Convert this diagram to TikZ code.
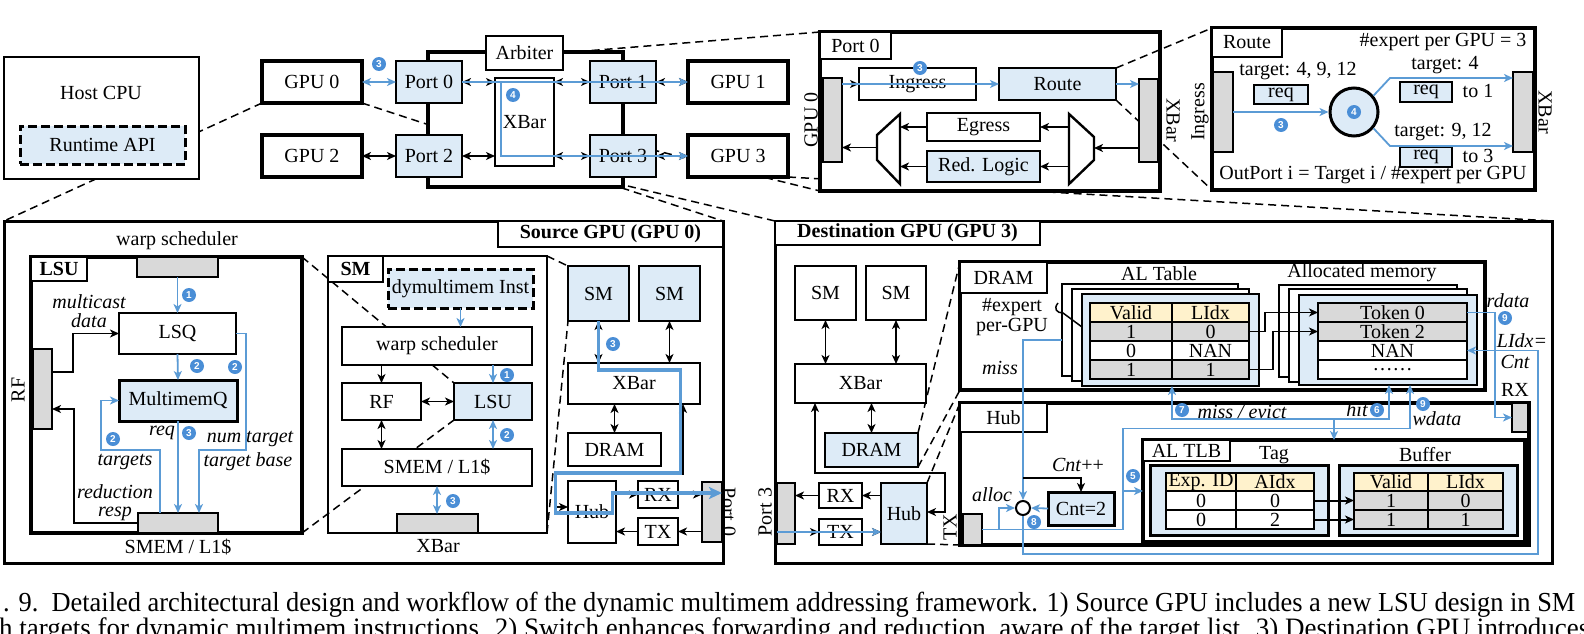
\documentclass[tikz,border=0pt]{standalone}
\usepackage{fontspec}
\setmainfont{Liberation Serif}
\setsansfont{Liberation Sans}
\newfontfamily\capfont[FakeStretch=0.96]{Liberation Serif}
\usepackage{tikz}
\usetikzlibrary{arrows.meta}
\usetikzlibrary{calc}
\usepackage{xcolor}
\usepackage{graphicx}

\definecolor{lblue}{HTML}{DDEBF7}
\definecolor{bline}{HTML}{5B9BD5}
\definecolor{bbadge}{HTML}{4A8ED6}
\definecolor{barg}{HTML}{D9D9D9}
\definecolor{hdr}{HTML}{FFF2CC}

\pgfdeclarelayer{background}
\pgfsetlayers{background,main}

\begin{document}
\fontsize{20}{24}\selectfont
\begin{tikzpicture}[x=1pt, y=-1pt, >={Stealth[length=9pt,width=8pt,inset=2.5pt]}]
        % ================= styles =================
        \tikzset{
            % plain white box
            box/.style={draw=black, line width=2.4pt, fill=white, inner sep=0pt, outer sep=0pt},
            % thin white box
            thinbox/.style={box, line width=1.6pt},
            % heavy box (GPUs, outer frames)
            heavybox/.style={box, line width=3.2pt},
            % highlighted box
            bluebox/.style={box, fill=lblue},
            % dashed box
            dashbox/.style={dash pattern=on 9pt off 4pt, line width=3pt},
            % container without fill
            outerbox/.style={draw=black, line width=3pt, inner sep=0pt, outer sep=0pt},
            % grey interface bar
            bar/.style={draw=black, line width=2.4pt, fill=barg, inner sep=0pt, outer sep=0pt},
            % small request box
            reqbox/.style={draw=black, line width=1.5pt, fill=lblue, inner sep=0pt, outer sep=0pt},
            % size helper
            sz/.style 2 args={minimum width=#1pt, minimum height=#2pt},
            % table cells
            cell/.style={draw=black, line width=1.5pt, inner sep=0pt, outer sep=0pt, minimum height=19pt},
            hcell/.style={cell, fill=hdr},
            gcell/.style={cell, fill=barg},
            wcell/.style={cell, fill=white},
            % zoom-in guide lines
            zoomline/.style={draw=black, line width=1.5pt, dash pattern=on 8pt off 5pt},
            % connectors
            arr/.style={draw=black, line width=1.5pt, ->},
            darr/.style={draw=black, line width=1.5pt, <->},
            barr/.style={draw=bline, line width=1.8pt, ->},
            bdarr/.style={draw=bline, line width=1.8pt, <->},
            bpath/.style={draw=bline, line width=3.2pt, -{Stealth[length=13pt,width=12pt,inset=3pt]}},
            % step badge
            badge/.style={circle, fill=bbadge, text=white, font=\sffamily\bfseries\fontsize{10}{10}\selectfont, inner sep=0pt, minimum size=14pt},
            note/.style={font=\itshape, inner sep=0pt}
        }
        \useasboundingbox (0,0) rectangle (1584,634);

        % ================= 1. containers of the lower half =================
        \node[outerbox, sz={719}{342}] (src) at (363.5,392) {};
        \node[outerbox, sz={777}{342}] (dst) at (1163.5,392) {};
        \node[box, fill=none, sz={219}{277}] (smdet) at (437.5,394.5) {};

        % ================= 2. host, GPUs and switch =================
        \node[box, sz={195}{122}] (host) at (101.5,118) {};
        \node (hostlbl) at (101,93) {Host CPU};
        \node[bluebox, dashbox, sz={165}{38}] (rtapi) at (102.5,145) {Runtime API};

        \node[heavybox, sz={100}{42}] (gpu0) at (312,82) {GPU 0};
        \node[heavybox, sz={100}{42}] (gpu2) at (312,156) {GPU 2};
        \node[heavybox, sz={100}{42}] (gpu1) at (738,82) {GPU 1};
        \node[heavybox, sz={100}{42}] (gpu3) at (738,156) {GPU 3};

        \node[heavybox, sz={195}{135}] (sw) at (525.5,119.5) {};
        \node[box, sz={77}{34}] (arb) at (524.5,53) {Arbiter};
        \node[bluebox, sz={66}{42}] (port0) at (429,82) {Port 0};
        \node[bluebox, sz={66}{42}] (port2) at (429,156) {Port 2};
        \node[bluebox, sz={66}{42}] (port1) at (623,82) {Port 1};
        \node[bluebox, sz={66}{42}] (port3) at (623,156) {Port 3};
        \node[thinbox, sz={59}{88}] (xbar) at (524.5,122) {XBar};

        % --- links ---
        \draw[bdarr] (gpu0.east) -- (port0.west);
        \draw[darr] (gpu2.east) -- (port2.west);
        \draw[darr] (port0.east) -- (port0.east -| xbar.west);
        \draw[darr] (port0.east -| xbar.east) -- (port1.west);
        \draw[darr] (port1.east) -- (gpu1.west);
        \draw[darr] (port2.east) -- (port2.east -| xbar.west);
        \draw[darr] (port2.east -| xbar.east) -- (port3.west);
        \draw[darr] (port3.east) -- (gpu3.west);
        % --- multicast route ---
        \draw[barr] (port0.east) -- (gpu1.west);
        \draw[barr] ($(port0.east)+(39,0)$) |- (gpu3.west);
        \node[badge] (bg3) at (379,64) {3};
        \node[badge] (bg4) at (513,95) {4};

        % ================= 3. Route detail and Port 0 detail =================
        \node[heavybox, sz={323}{162}] (rdet) at (1373.5,109) {};
        \node[heavybox, sz={340}{159}] (pdet) at (990,111.5) {};
        \node[bluebox, sz={117}{32}] (route) at (1057.5,84) {Route};
        \draw[zoomline] (route.north east) -- (rdet.north west);
        \draw[zoomline] (route.south east) -- (rdet.south west);

        \node[box, sz={71}{27}] (pdetlbl) at (855.5,45.5) {Port 0};
        \node[bar, sz={19}{84}] (pgbar) at (832.5,120) {};
        \node[rotate=90] (pgbarlbl) at (811,120) {GPU 0};
        \node[box, sz={117}{32}] (ingress) at (917.5,84) {Ingress};
        \node[bar, sz={19}{83}] (pxbar) at (1148.5,120.5) {};
        \node[rotate=-90] (pxbarlbl) at (1173,120) {XBar};
        \node[box, sz={113}{28}] (egress) at (983.5,127) {Egress};
        \node[bluebox, sz={113}{31}] (redlog) at (983.5,166.5) {Red. Logic};
        % mux / demux
        \draw[line width=2.4pt, fill=white] (900,114) -- (900,184) -- (877,160) -- (877,135) -- cycle;
        \draw[line width=2.4pt, fill=white] (1069,114) -- (1069,184) -- (1094,160) -- (1094,137) -- cycle;
        \coordinate (muxout) at (877,147.5);
        \coordinate (muxin) at (900,147.5);
        \coordinate (dmxin) at (1094,148);
        \coordinate (dmxout) at (1069,148);

        \draw[arr] (dmxin -| pxbar.west) -- (dmxin);
        \draw[arr] (egress.east -| dmxout) -- (egress.east);
        \draw[arr] (redlog.east -| dmxout) -- (redlog.east);
        \draw[arr] (egress.west) -- (egress.west -| muxin);
        \draw[arr] (redlog.west) -- (redlog.west -| muxin);
        \draw[arr] (muxout) -- (muxout -| pgbar.east);
        \draw[arr] (ingress.west -| pgbar.east) -- (ingress.west);
        \draw[barr] (ingress.west -| pgbar.east) -- (route.west);
        \draw[barr] (route.east) -- (route.east -| pxbar.west);
        \node[badge] (bp3) at (920,68) {3};

        % --- Route detail content ---
        \node[box, sz={70}{29}] (rdetlbl) at (1247,42.5) {Route};
        \node (epg) at (1443,42) {\#expert per GPU = 3};
        \node[bar, sz={20}{80}] (rinbar) at (1223,112) {};
        \node[rotate=90] (rinlbl) at (1200,112) {Ingress};
        \node[bar, sz={20}{80}] (routbar) at (1523,112) {};
        \node[rotate=-90] (routlbl) at (1545,112) {XBar};
        \node[circle, draw=black, line width=3pt, fill=lblue, minimum size=48pt, inner sep=0pt] (rsel) at (1354,112) {};
        \node[badge] (br4) at (rsel) {4};
        \node (rt0) at (1298,71) {target: 4, 9, 12};
        \node[reqbox, sz={54}{19}] (req0) at (1281,94.5) {req};
        \node (rt1) at (1445,65) {target: 4};
        \node[reqbox, sz={52}{20}] (req1) at (1426,92) {req};
        \node (to1) at (1478,91) {to 1};
        \node (rt2) at (1443,132) {target: 9, 12};
        \node[reqbox, sz={52}{20}] (req2) at (1426,157) {req};
        \node (to3) at (1478,156) {to 3};
        \node (opi) at (1373,175) {OutPort i = Target i / \#expert per GPU};
        \coordinate (rup) at (1390,78);
        \coordinate (rdn) at (1390,146);
        \draw[barr] (rinbar.east) -- (rsel.west);
        \draw[barr] (rsel.40) -- (rup) -- (rup -| routbar.west);
        \draw[barr] (rsel.-40) -- (rdn) -- (rdn -| routbar.west);
        \node[badge] (br3) at (1281,125) {3};

        % ================= 4. Source GPU =================
        \node[box, sz={225}{26}, font=\bfseries] (srclbl) at (610.5,234) {Source GPU (GPU 0)};

        % --- LSU detail ---
        \node[heavybox, sz={271}{276}] (lsudet) at (166.5,395) {};
        \node[box, sz={56}{24}, font=\bfseries] (lsulbl) at (59,269) {LSU};
        \node (lwslbl) at (177,241) {warp scheduler};
        \node[bar, sz={81}{20}] (lwsbar) at (177.5,267) {};
        \node[box, sz={117}{41}] (lsq) at (177.5,333.5) {LSQ};
        \node[bar, sz={19}{80}] (lrfbar) at (42.5,389) {};
        \node[rotate=90] (lrflbl) at (18,390) {RF};
        \node[bluebox, line width=3pt, sz={118}{41}] (mmq) at (178,400.5) {MultimemQ};
        \node[bar, sz={80}{20}] (lsmbar) at (178,523) {};
        \node (lsmlbl) at (178,547) {SMEM / L1\$};

        \node[note] (tmc) at (89,302) {multicast};
        \node[note] (tmd) at (89,321) {data};
        \node[note] (treq) at (162,433) {req};
        \node[note] (tnt) at (250,439) {num target};
        \node[note] (ttb) at (248,462) {target base};
        \node[note] (ttg) at (125,462) {targets};
        \node[note] (trd) at (115,492) {reduction};
        \node[note] (trs) at (115,514) {resp};

        \draw[barr] (lwsbar.south) -- (lsq.north);
        \draw[arr] ($(lrfbar.east)+(0,-17)$) -| ($(lsq.west)+(-46,0)$) -- (lsq.west);
        \draw[barr] (lsq.south) -- (mmq.north);
        \draw[barr] (lsq.east) -- ++(10,0) |- ($(lsmbar.north)+(21,-63)$) -- ($(lsmbar.north)+(21,0)$);
        \draw[barr] (mmq.south) -- (mmq.south |- lsmbar.north);
        \draw[barr] ($(lsmbar.north)+(-18,0)$) -- ++(0,-63) -- ++(-59,0) |- (mmq.west);
        \draw[arr] (lsmbar.west) -- ++(-64,0) |- ($(lrfbar.east)+(0,20)$);
        \node[badge] at (189,295) {1};
        \node[badge] at (197,366) {2};
        \node[badge] at (235,367) {2};
        \node[badge] at (189,433) {3};
        \node[badge] at (113,439) {2};

        % --- SM detail ---
        \node[box, sz={55}{26}, font=\bfseries] (smlbl) at (355.5,269) {SM};
        \node[bluebox, dashbox, sz={145}{39}] (dyinst) at (460.5,288.5) {dymultimem Inst};
        \node[box, sz={190}{38}] (ws) at (437,346) {warp scheduler};
        \node[box, sz={79}{37}] (rf) at (381.5,401.5) {RF};
        \node[bluebox, sz={78}{37}] (lsu) at (493,401.5) {LSU};
        \node[box, sz={190}{37}] (smem) at (437,467.5) {SMEM / L1\$};
        \node[bar, sz={81}{19}] (smxbar) at (437.5,523.5) {};
        \node (smxlbl) at (438,546) {XBar};

        \draw[barr] (dyinst.south) -- (dyinst.south |- ws.north);
        \draw[arr] (rf.north |- ws.south) -- (rf.north);
        \draw[barr] (lsu.north |- ws.south) -- (lsu.north);
        \draw[darr] (rf.east) -- (lsu.west);
        \draw[darr] (rf.south) -- (rf.south |- smem.north);
        \draw[bdarr] (lsu.south) -- (lsu.south |- smem.north);
        \draw[bdarr] (smem.south) -- (smem.south |- smxbar.north);
        \node[badge] at (507,375) {1};
        \node[badge] at (507,435) {2};
        \node[badge] at (453,501) {3};

        % --- GPU 0 chip ---
        \node[bluebox, sz={61}{55}] (ssm1) at (598.5,293.5) {SM};
        \node[bluebox, sz={61}{55}] (ssm2) at (669.5,293.5) {SM};
        \node[box, sz={132}{41}] (sxbar) at (634,383.5) {XBar};
        \node[box, sz={93}{33}] (sdram) at (614.5,449.5) {DRAM};
        \node[box, sz={48}{62}] (shub) at (592,512) {Hub};
        \node[box, sz={40}{27}] (srx) at (658,494.5) {RX};
        \node[box, sz={40}{27}] (stx) at (658,531.5) {TX};
        \node[bar, sz={20}{60}] (sp0bar) at (712,512) {};
        \node[rotate=-90] (sp0lbl) at (729,512) {Port 0};

        \draw[darr] (ssm1.south) -- (ssm1.south |- sxbar.north);
        \draw[darr] (ssm2.south) -- (ssm2.south |- sxbar.north);
        \draw[darr] (sdram.north) -- (sdram.north |- sxbar.south);
        \draw[darr] ($(sxbar.south east)+(-17,0)$) -- ++(0,70) -| ($(shub.west)+(-12,-5)$) -- ($(shub.west)+(0,-5)$);
        \draw[arr] (srx.west -| shub.east) -- (srx.west);
        \draw[arr] (srx.east) -- (srx.east -| sp0bar.west);
        \draw[arr] (stx.east -| sp0bar.west) -- (stx.east);
        \draw[arr] (stx.west) -- (stx.west -| shub.east);
        \draw[bpath] (ssm1.south) -- ++(0,49) -- ++(82,0) -- ++(0,103) -- ++(-125,0) -- ++(0,40) -- ++(57,0) -- ++(0,-20) -- ($(sp0bar.east)+(0,-19)$);
        \node[badge] at (613,344) {3};

        % ================= 5. Destination GPU =================
        \node[box, sz={265}{24}, font=\bfseries] (dstlbl) at (907.5,233) {Destination GPU (GPU 3)};
        \node[box, sz={61}{54}] (dsm1) at (825.5,293) {SM};
        \node[box, sz={60}{54}] (dsm2) at (896,293) {SM};
        \node[box, sz={131}{39}] (dxbar) at (860.5,383.5) {XBar};
        \node[bluebox, sz={93}{34}] (ddram) at (871.5,450) {DRAM};
        \node[bluebox, sz={46}{61}] (dhub) at (904,513.5) {Hub};
        \node[box, sz={43}{25}] (drx) at (840.5,495.5) {RX};
        \node[box, sz={43}{26}] (dtx) at (840.5,532) {TX};
        \node[bar, sz={18}{61}] (dp3bar) at (786,513.5) {};
        \node[rotate=90] (dp3lbl) at (765,512) {Port 3};

        \draw[darr] (dsm1.south) -- (dsm1.south |- dxbar.north);
        \draw[darr] (dsm2.south) -- (dsm2.south |- dxbar.north);
        \draw[darr] (ddram.north) -- (ddram.north |- dxbar.south);
        \draw[darr] ($(dxbar.south west)+(20,0)$) -- ++(0,70) -| ($(dhub.east)+(18,-1.5)$) -- ($(dhub.east)+(0,-1.5)$);
        \draw[arr] (drx.east -| dhub.west) -- (drx.east);
        \draw[arr] (drx.west) -- (drx.west -| dp3bar.east);
        \draw[arr] (dtx.west -| dp3bar.east) -- (dtx.west);
        \draw[arr] (dtx.east) -- (dtx.east -| dhub.west);
        \draw[barr] (dtx.west -| dp3bar.west) -- (dtx.east -| dhub.west);

        % --- DRAM detail ---
        \node[heavybox, sz={525}{128}] (dramdet) at (1222.5,326) {};
        \node[box, sz={87}{31}] (dramlbl) at (1003.5,277.5) {DRAM};
        \node (tep1) at (1012,307) {\#expert};
        \node (tep2) at (1012,327) {per-GPU};
        \node[note] (tmiss) at (1000,368) {miss};
        \node (tal) at (1159,274) {AL Table};
        \node[box, sz={176}{92}] (alfb) at (1150,330) {};
        \node[box, sz={177}{92}] (alfm) at (1160.5,335) {};
        \node[bluebox, sz={177}{92}] (alff) at (1170.5,340) {};
        \node[hcell, sz={82}{19}] (alh1) at (1131,312.5) {Valid};
        \node[hcell, sz={77}{19}] (alh2) at (1210.5,312.5) {LIdx};
        \node[gcell, sz={82}{19}] (al11) at (1131,331.5) {1};
        \node[gcell, sz={77}{19}] (al12) at (1210.5,331.5) {0};
        \node[wcell, sz={82}{19}] (al21) at (1131,350.5) {0};
        \node[wcell, sz={77}{19}] (al22) at (1210.5,350.5) {NAN};
        \node[gcell, sz={82}{19}] (al31) at (1131,369.5) {1};
        \node[gcell, sz={77}{19}] (al32) at (1210.5,369.5) {1};
        \draw[line width=1.5pt] (1058,303) .. controls (1053,309) and (1057,313) .. (1063,313) -- (1082,327);

        \node (tam) at (1362,273) {Allocated memory};
        \node[box, sz={178}{92}] (amfb) at (1368,331) {};
        \node[box, sz={178}{93}] (amfm) at (1378,335.5) {};
        \node[bluebox, sz={178}{90}] (amff) at (1388,340) {};
        \node[gcell, sz={149}{19}] (am1) at (1392.5,312.5) {Token 0};
        \node[gcell, sz={149}{19}] (am2) at (1392.5,331.5) {Token 2};
        \node[wcell, sz={149}{19}] (am3) at (1392.5,350.5) {NAN};
        \node[wcell, sz={149}{19}] (am4) at (1392.5,369.5) {\ldots\ldots};
        \draw[arr] (al12.east) -- ++(16,0) |- (am1.west);
        \draw[arr] (al32.east) -- ++(24,0) |- (am2.west);

        % --- Hub detail ---
        \node[heavybox, sz={569}{142}] (hubdet) at (1244.5,474) {};
        \node[box, sz={87}{29}] (hublbl) at (1003.5,417.5) {Hub};
        \node[bar, sz={19}{31}] (htxbar) at (972.5,529.5) {};
        \node[rotate=90] (htxlbl) at (950,527) {TX};
        \node[bar, sz={16}{29}] (hrxbar) at (1520,417.5) {};
        \node (hrxlbl) at (1515,390) {RX};
        \node[circle, draw=black, line width=2pt, fill=white, minimum size=14pt, inner sep=0pt] (jn) at (1023,508) {};
        \node[bluebox, line width=3pt, sz={66}{33}] (cnt) at (1081,508.5) {Cnt=2};
        \node (tcpp) at (1078,465) {\textit{Cnt}++};
        \node[note] (talloc) at (992,495) {alloc};

        \node[heavybox, sz={382}{102}] (altlb) at (1334,491) {};
        \node[box, sz={87}{21}] (altlblbl) at (1186.5,450.5) {AL TLB};
        \node (ttag) at (1274,455) {Tag};
        \node (tbuf) at (1425,455) {Buffer};
        \node[bluebox, line width=3pt, sz={178}{70}] (tagf) at (1239,500) {};
        \node[bluebox, line width=3pt, sz={178}{70}] (buff) at (1428,500) {};
        \node[hcell, sz={70}{18}] (tgh1) at (1201,482) {Exp. ID};
        \node[hcell, sz={78}{18}] (tgh2) at (1275,482) {AIdx};
        \node[wcell, sz={70}{19}] (tg11) at (1201,500.5) {0};
        \node[wcell, sz={78}{19}] (tg12) at (1275,500.5) {0};
        \node[wcell, sz={70}{19}] (tg21) at (1201,519.5) {0};
        \node[wcell, sz={78}{19}] (tg22) at (1275,519.5) {2};
        \node[hcell, sz={74}{18}] (bfh1) at (1391,482) {Valid};
        \node[hcell, sz={75}{18}] (bfh2) at (1465.5,482) {LIdx};
        \node[gcell, sz={74}{19}] (bf11) at (1391,500.5) {1};
        \node[gcell, sz={75}{19}] (bf12) at (1465.5,500.5) {0};
        \node[gcell, sz={74}{19}] (bf21) at (1391,519.5) {1};
        \node[gcell, sz={75}{19}] (bf22) at (1465.5,519.5) {1};
        \draw[arr, line width=2pt] (tg12.east) -- (bf11.west);
        \draw[arr, line width=2pt] (tg22.east) -- (bf21.west);

        % --- request flow in destination ---
        \coordinate (mh) at (1334,419);
        \draw[barr] ($(alfb.west)+(0,10)$) -- ++(-39,0) -- (jn.north);
        \draw[barr] (jn.south) -- ++(0,38) -| ($(am3.east)+(71,0)$) -- (am3.east);
        \draw[barr] (am1.east) -- ++(28,0) |- (hrxbar.west);
        \draw[barr] (htxbar.east) -- ++(141,0) -- ++(0,-101) -| ($(amff.south)+(22,0)$);
        \draw[barr] ($(htxbar.east)+(17,0)$) |- (jn.west);
        \draw[barr] ($(altlb.west)+(-20,0)$) -- (altlb.west);
        \draw[barr] (cnt.west) -- (jn.east);
        \draw[arr] ($(jn.north)+(0,-22)$) -| (cnt.north);
        \draw[barr] (mh) -| ($(alff.south)+(1.5,0)$);
        \draw[barr] (mh) -| ($(amff.south)+(1,0)$);
        \draw[barr] (mh) -- (altlb.north);

        \node[note] (tme) at (1242,412) {miss / evict};
        \node[note] (thit) at (1357,410) {hit};
        \node[note] (twd) at (1437,419) {wdata};
        \node[note] (trd2) at (1508,301) {rdata};
        \node[note] (tli) at (1522,341) {LIdx=};
        \node[note] (tcnt) at (1515,362) {Cnt};
        \node[badge] at (1182,410) {7};
        \node[badge] at (1377,410) {6};
        \node[badge] at (1423,404) {9};
        \node[badge] at (1505,318) {9};
        \node[badge] at (1133,476) {5};
        \node[badge] at (1034,522) {8};

        % ================= 6. zoom-in guide lines (behind) =================
        \begin{pgfonlayer}{background}
            \draw[zoomline] (gpu0.south west) -- (src.north west);
            \draw[zoomline] (gpu0.south east) -- (src.north east);
            \draw[zoomline] (port0.north east) -- (pdet.north west);
            \draw[zoomline] (port0.south east) -- (pdet.south west);
            \draw[zoomline] (port3.south west) -- (dst.north west);
            \draw[zoomline] (gpu3.south east) -- (dst.north east);
            \draw[zoomline] (lsudet.north east) -- (lsu.north west);
            \draw[zoomline] (lsudet.south east) -- (lsu.south west);
            \draw[zoomline] (smdet.north east) -- (ssm1.north west);
            \draw[zoomline] (smdet.south east) -- (ssm1.south west);
            \draw[zoomline] (ddram.north east) -- (dramdet.north west);
            \draw[zoomline] (ddram.south east) -- (dramdet.south west);
            \draw[zoomline] (dhub.north east) -- (hubdet.north west);
            \draw[zoomline] (dhub.south east) -- (hubdet.south west);
        \end{pgfonlayer}

        % ================= 7. caption =================
        \node[anchor=west, inner sep=0pt, font=\capfont] (cap1) at (3,605) {\resizebox{1572pt}{!}{. 9.\ \ Detailed architectural design and workflow of the dynamic multimem addressing framework. 1) Source GPU includes a new LSU design in SM}};
        \node[anchor=west, inner sep=0pt, font=\capfont] (cap2) at (-1,631) {\resizebox{1590pt}{!}{h targets for dynamic multimem instructions. 2) Switch enhances forwarding and reduction, aware of the target list. 3) Destination GPU introduces}};

    \end{tikzpicture}
\end{document}
